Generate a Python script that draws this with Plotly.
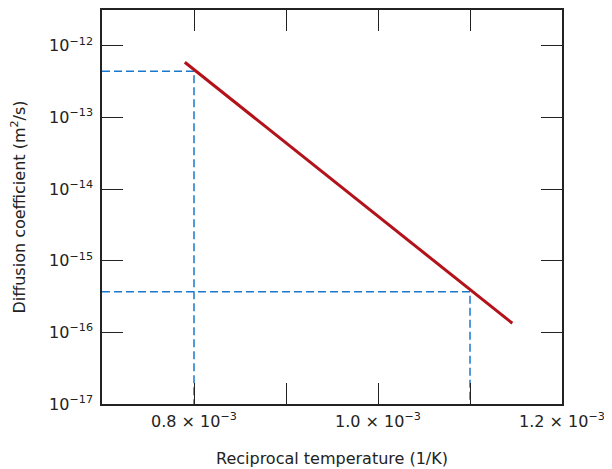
import plotly.graph_objects as go

# Data
line_x = [0.79e-3, 1.146e-3]
line_y = [5.9e-13, 1.34e-16]

dash1_x = [0.7e-3, 0.8e-3, 0.8e-3]
dash1_y = [4.4e-13, 4.4e-13, 1e-17]
dash2_x = [0.7e-3, 1.1e-3, 1.1e-3]
dash2_y = [3.7e-16, 3.7e-16, 1e-17]

x_tickvals = [0.8e-3, 0.9e-3, 1.0e-3, 1.1e-3, 1.2e-3]
x_ticktext = ["0.8 × 10<sup>−3</sup>", "", "1.0 × 10<sup>−3</sup>", "", "1.2 × 10<sup>−3</sup>"]
y_tickvals = [1e-17, 1e-16, 1e-15, 1e-14, 1e-13, 1e-12]
y_ticktext = ["10<sup>−17</sup>", "10<sup>−16</sup>", "10<sup>−15</sup>",
              "10<sup>−14</sup>", "10<sup>−13</sup>", "10<sup>−12</sup>"]

dash_color = "#1a78cc"
line_color = "#b3121a"
font_family = "DejaVu Sans, Verdana, sans-serif"

fig = go.Figure()
for dx, dy in [(dash1_x, dash1_y), (dash2_x, dash2_y)]:
    fig.add_trace(go.Scatter(x=dx, y=dy, mode="lines",
                             line=dict(color=dash_color, width=1.5, dash="8px,4px"),
                             hoverinfo="skip", showlegend=False))
fig.add_trace(go.Scatter(x=line_x, y=line_y, mode="lines",
                         line=dict(color=line_color, width=3),
                         showlegend=False))

fig.update_layout(
    width=604, height=461,
    margin=dict(l=94, r=50, t=2, b=65),
    plot_bgcolor="white", paper_bgcolor="white",
    font=dict(family=font_family, color="#222"),
    showlegend=False,
)
fig.update_xaxes(
    range=[0.7e-3, 1.2e-3], automargin=False,
    tickvals=x_tickvals, ticktext=x_ticktext,
    ticks="inside", ticklen=21, tickwidth=1, tickcolor="#222",
    showline=True, linecolor="#222", linewidth=1.5, mirror="ticks",
    showgrid=False, zeroline=False,
    tickfont=dict(size=16), ticklabelstandoff=2,
    title=dict(text="Reciprocal temperature (1/K)", font=dict(size=16), standoff=23),
)
fig.update_yaxes(
    type="log", range=[-17, -11.5], automargin=False,
    tickvals=y_tickvals, ticktext=y_ticktext,
    ticks="inside", ticklen=21, tickwidth=1, tickcolor="#222",
    showline=True, linecolor="#222", linewidth=1.5, mirror="ticks",
    showgrid=False, zeroline=False,
    tickfont=dict(size=16), ticklabelstandoff=4,
    title=dict(text="Diffusion coefficient (m<sup>2</sup>/s)", font=dict(size=16), standoff=22),
)

fig.write_html("out.html")
